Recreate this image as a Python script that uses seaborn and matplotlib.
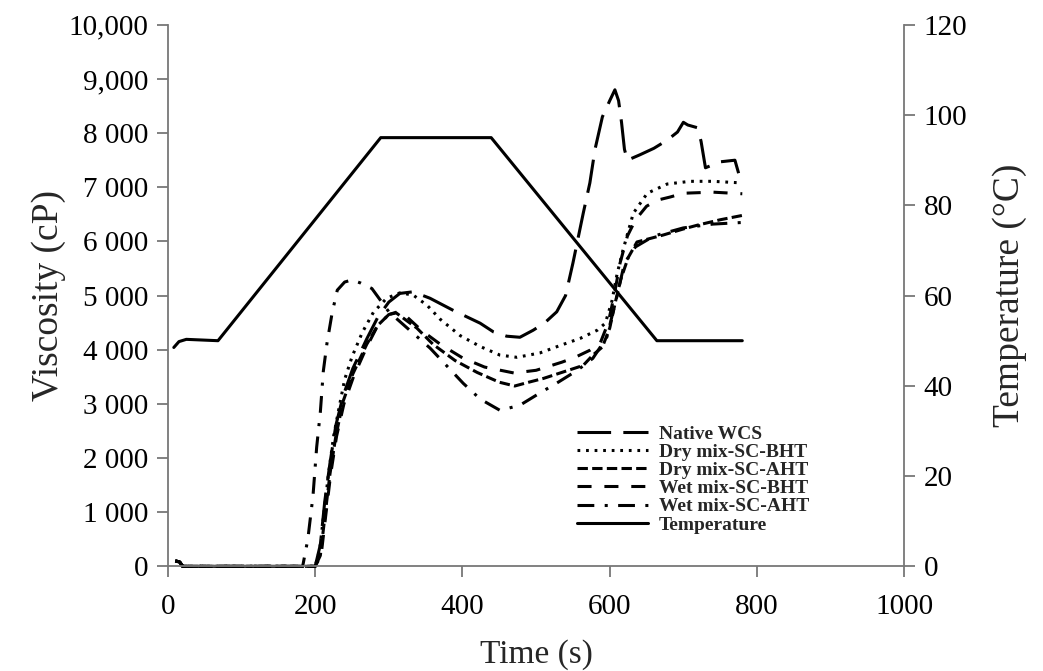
import numpy as np
import pandas as pd
import seaborn as sns
import matplotlib.pyplot as plt

# RVA pasting curves: time (s) vs viscosity (cP)
native_t = [10, 16, 20, 200, 207, 213, 220, 228, 238, 251, 270, 285, 300, 315, 333, 356,
            387, 424, 442, 460, 478, 496, 512, 528, 540, 550, 564, 573, 580, 590, 600,
            607, 612, 616, 620, 624, 641, 660, 678, 692, 700, 706, 719, 724, 730, 750,
            770, 775]
native_v = [100, 80, 0, 0, 400, 1200, 1900, 2600, 3150, 3650, 4200, 4600, 4880, 5040, 5070,
            4950, 4730, 4490, 4330, 4250, 4230, 4360, 4500, 4700, 5000, 5600, 6520, 7080,
            7700, 8300, 8600, 8800, 8600, 8200, 7700, 7500, 7600, 7720, 7870, 8020, 8200,
            8150, 8100, 7850, 7360, 7470, 7500, 7260]

dry_bht_t = [10, 16, 20, 200, 206, 212, 218, 225, 232, 240, 250, 264, 279, 297, 315, 333,
             352, 370, 397, 424, 451, 474, 505, 533, 560, 583, 594, 603, 610, 618, 632,
             651, 678, 709, 740, 780]
dry_bht_v = [100, 80, 0, 0, 300, 1000, 1700, 2400, 2900, 3450, 3870, 4320, 4690, 4950, 5050,
             5010, 4820, 4560, 4260, 4060, 3900, 3860, 3940, 4080, 4210, 4360, 4490, 4900,
             5400, 5840, 6520, 6890, 7060, 7110, 7110, 7080]

dry_aht_t = [10, 16, 20, 200, 207, 213, 220, 228, 238, 251, 270, 285, 300, 310, 320, 338,
             360, 390, 420, 450, 471, 490, 510, 537, 564, 577, 590, 600, 608, 615, 625,
             637, 673, 700, 719, 750, 780]
dry_aht_v = [100, 80, 0, 0, 200, 900, 1700, 2400, 3050, 3550, 4100, 4450, 4650, 4680, 4580,
             4400, 4100, 3800, 3580, 3400, 3330, 3400, 3470, 3590, 3710, 3900, 4050, 4400,
             4900, 5300, 5700, 5990, 6120, 6230, 6300, 6400, 6480]

wet_bht_t = [10, 16, 20, 200, 208, 214, 221, 229, 239, 252, 270, 285, 300, 312, 325, 345,
             370, 400, 430, 470, 500, 535, 553, 573, 587, 598, 606, 614, 624, 635, 650,
             664, 682, 700, 740, 780]
wet_bht_v = [100, 80, 0, 0, 200, 900, 1700, 2400, 3000, 3500, 4050, 4450, 4650, 4700, 4600,
             4350, 4100, 3850, 3680, 3570, 3620, 3770, 3860, 3990, 4120, 4500, 5000, 5600,
             6100, 6400, 6650, 6760, 6820, 6890, 6910, 6880]

wet_aht_t = [10, 16, 20, 183, 190, 197, 202, 207, 211, 216, 223, 230, 240, 250, 262, 277,
             300, 325, 356, 401, 424, 451, 478, 505, 530, 556, 577, 596, 610, 620, 635,
             660, 700, 740, 780]
wet_aht_v = [100, 80, 0, 0, 500, 1300, 2200, 2850, 3600, 4120, 4680, 5100, 5250, 5290, 5230,
             5130, 4700, 4400, 4030, 3380, 3090, 2880, 2975, 3200, 3400, 3620, 3840, 4230,
             5000, 5600, 5900, 6100, 6250, 6320, 6350]

# temperature profile (°C)
temp_t = [8, 15, 25, 68, 289, 439, 664, 780]
temp_v = [48.5, 49.8, 50.3, 50, 95, 95, 50, 50]

series_names = ["Native WCS", "Dry mix-SC-BHT", "Dry mix-SC-AHT",
                "Wet mix-SC-BHT", "Wet mix-SC-AHT"]
visc_tick_labels = ["0", "1 000", "2 000", "3 000", "4 000", "5 000",
                    "6 000", "7 000", "8 000", "9,000", "10,000"]
temp_tick_labels = ["0", "20", "40", "60", "80", "100", "120"]
time_tick_labels = ["0", "200", "400", "600", "800", "1000"]

if __name__ == "__main__":
    sns.set_style("white")
    plt.rcParams["font.family"] = ["Liberation Serif", "DejaVu Serif"]

    series = [(native_t, native_v), (dry_bht_t, dry_bht_v), (dry_aht_t, dry_aht_v),
              (wet_bht_t, wet_bht_v), (wet_aht_t, wet_aht_v)]
    lw = 2.2
    styles = [(0, (11, 4)),
              (0, (0.9, 1.9)),
              (0, (3.4, 1.4)),
              (0, (4.6, 4.2)),
              (0, (5.5, 3.4, 1.0, 3.4))]

    fig, ax = plt.subplots(figsize=(10.43, 6.71), dpi=100)
    fig.subplots_adjust(left=0.161, right=0.867, bottom=0.156, top=0.963)
    ax2 = ax.twinx()

    for (t, v), ls in zip(series, styles):
        sns.lineplot(x=t, y=v, ax=ax, color="black", linewidth=lw,
                     linestyle=ls, clip_on=False)
    sns.lineplot(x=temp_t, y=temp_v, ax=ax2, color="black", linewidth=lw,
                 clip_on=False)

    ax.set_xlim(0, 1000)
    ax.set_ylim(0, 10000)
    ax2.set_ylim(0, 120)
    ax.set_xticks(np.arange(0, 1001, 200))
    ax.set_xticklabels(time_tick_labels)
    ax.set_yticks(np.arange(0, 10001, 1000))
    ax.set_yticklabels(visc_tick_labels)
    ax2.set_yticks(np.arange(0, 121, 20))
    ax2.set_yticklabels(temp_tick_labels)

    fs = 21
    ax.set_xlabel("Time (s)", fontsize=24, labelpad=14)
    ax.set_ylabel("Viscosity (cP)", fontsize=27, labelpad=2)
    ax2.set_ylabel("Temperature (°C)", fontsize=27, labelpad=18)

    spine_col = "#777777"
    for a in (ax, ax2):
        a.spines["top"].set_visible(False)
        for s in a.spines.values():
            s.set_color(spine_col)
            s.set_linewidth(1.3)
        a.tick_params(direction="out", length=8, width=1.3, color=spine_col,
                      labelsize=fs, labelcolor="black", pad=6)
    ax.spines["right"].set_visible(False)
    ax2.spines["left"].set_visible(False)
    ax2.spines["bottom"].set_visible(False)
    ax.tick_params(axis="y", left=True, right=False)
    ax.tick_params(axis="x", bottom=True, pad=12)
    ax2.tick_params(axis="y", right=True, left=False)

    handles = list(ax.get_lines()[:5]) + [ax2.get_lines()[0]]
    labels = series_names + ["Temperature"]
    ax2.legend(handles, labels, loc="upper left", bbox_to_anchor=(0.556, 0.261),
               frameon=False, borderpad=0, borderaxespad=0, handlelength=3.65,
               handletextpad=0.55, labelspacing=0.03,
               prop={"family": "Liberation Serif", "weight": "bold", "size": 14})

    plt.savefig("out.png", dpi=100)
